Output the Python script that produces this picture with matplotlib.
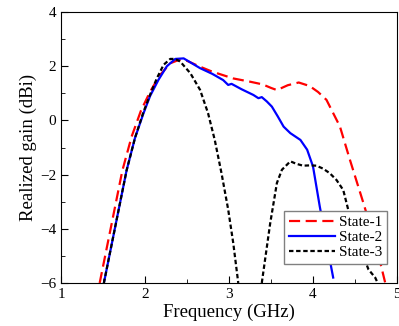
import numpy as np
import matplotlib.pyplot as plt
from matplotlib.ticker import MultipleLocator

plt.rcParams['font.family'] = ['Liberation Serif', 'DejaVu Serif']

# State-1 (red dashed)
f1 = [1.46, 1.60, 1.73, 1.84, 1.95, 2.06, 2.18, 2.30, 2.40, 2.50, 2.65, 2.80, 3.05, 3.25,
      3.40, 3.50, 3.57, 3.70, 3.83, 3.96, 4.06, 4.16, 4.32, 4.44, 4.60, 4.75, 4.86]
g1 = [-6.0, -3.85, -1.85, -0.60, 0.35, 1.06, 1.68, 2.11, 2.23, 2.20, 1.99, 1.80, 1.55, 1.43,
      1.33, 1.20, 1.12, 1.30, 1.40, 1.27, 1.05, 0.76, -0.22, -1.46, -3.05, -4.6, -6.0]

# State-2 (blue solid)
f2 = [1.51, 1.64, 1.78, 1.88, 1.98, 2.06, 2.16, 2.26, 2.36, 2.46, 2.655, 2.80, 2.93,
      2.99, 3.03, 3.15, 3.25, 3.29, 3.35, 3.39, 3.45, 3.51, 3.58, 3.65, 3.73, 3.85, 3.93, 4.00,
      4.08, 4.16, 4.24]
g2 = [-6.0, -4.0, -1.85, -0.65, 0.25, 0.90, 1.50, 2.00, 2.27, 2.29, 1.93, 1.72, 1.49,
      1.31, 1.35, 1.15, 1.00, 0.94, 0.82, 0.86, 0.70, 0.51, 0.15, -0.23, -0.47, -0.72, -1.08, -1.70,
      -3.17, -4.5, -5.8]

# State-3 (black dotted), two lobes
f3 = [1.51, 1.64, 1.78, 1.88, 1.98, 2.06, 2.14, 2.22, 2.30, 2.36, 2.42, 2.54, 2.655, 2.75,
      2.83, 2.91, 2.99, 3.05, 3.11, np.nan,
      3.39, 3.44, 3.49, 3.57, 3.63, 3.73, 3.80, 3.88, 3.96, 4.04, 4.12, 4.20, 4.28, 4.36,
      4.44, 4.55, 4.66, 4.74, 4.77]
g3 = [-6.0, -4.0, -1.85, -0.65, 0.30, 0.95, 1.55, 2.05, 2.27, 2.27, 2.17, 1.74, 1.13, 0.27,
      -0.72, -1.94, -3.29, -4.52, -6.0, np.nan,
      -6.0, -4.9, -3.8, -2.31, -1.82, -1.51, -1.60, -1.67, -1.66, -1.67, -1.78, -1.95, -2.20, -2.57,
      -3.55, -4.6, -5.5, -5.8, -6.0]

fig = plt.figure(figsize=(3.99, 3.26), dpi=100)
ax = fig.add_axes([0.153, 0.132, 0.842, 0.831])

ax.plot(f1, g1, color='#ff0000', lw=1.6, ls=(0, (5, 2.5)), label='State-1')
ax.plot(f2, g2, color='#0000ff', lw=1.6, ls='-', label='State-2')
ax.plot(f3, g3, color='black', lw=1.6, ls=(0, (2, 1.2)), label='State-3')

ax.set_xlim(1, 5)
ax.set_ylim(-6, 4)
ax.xaxis.set_major_locator(MultipleLocator(1))
ax.xaxis.set_minor_locator(MultipleLocator(0.5))
ax.yaxis.set_major_locator(MultipleLocator(2))
ax.yaxis.set_minor_locator(MultipleLocator(1))
ax.tick_params(which='both', direction='in', labelsize=11)
ax.tick_params(which='major', length=5)
ax.tick_params(which='minor', length=3)
ax.set_xlabel('Frequency (GHz)', fontsize=13.5, labelpad=2)
ax.set_ylabel('Realized gain (dBi)', fontsize=13.5, labelpad=2)

leg = ax.legend(loc='lower right', bbox_to_anchor=(0.97, 0.07), fontsize=11, fancybox=False,
                handlelength=3.0, handletextpad=0.3, borderpad=0.3, labelspacing=0.1,
                borderaxespad=0, framealpha=1)
leg.get_frame().set_edgecolor('gray')

fig.savefig('out.png', dpi=100)
